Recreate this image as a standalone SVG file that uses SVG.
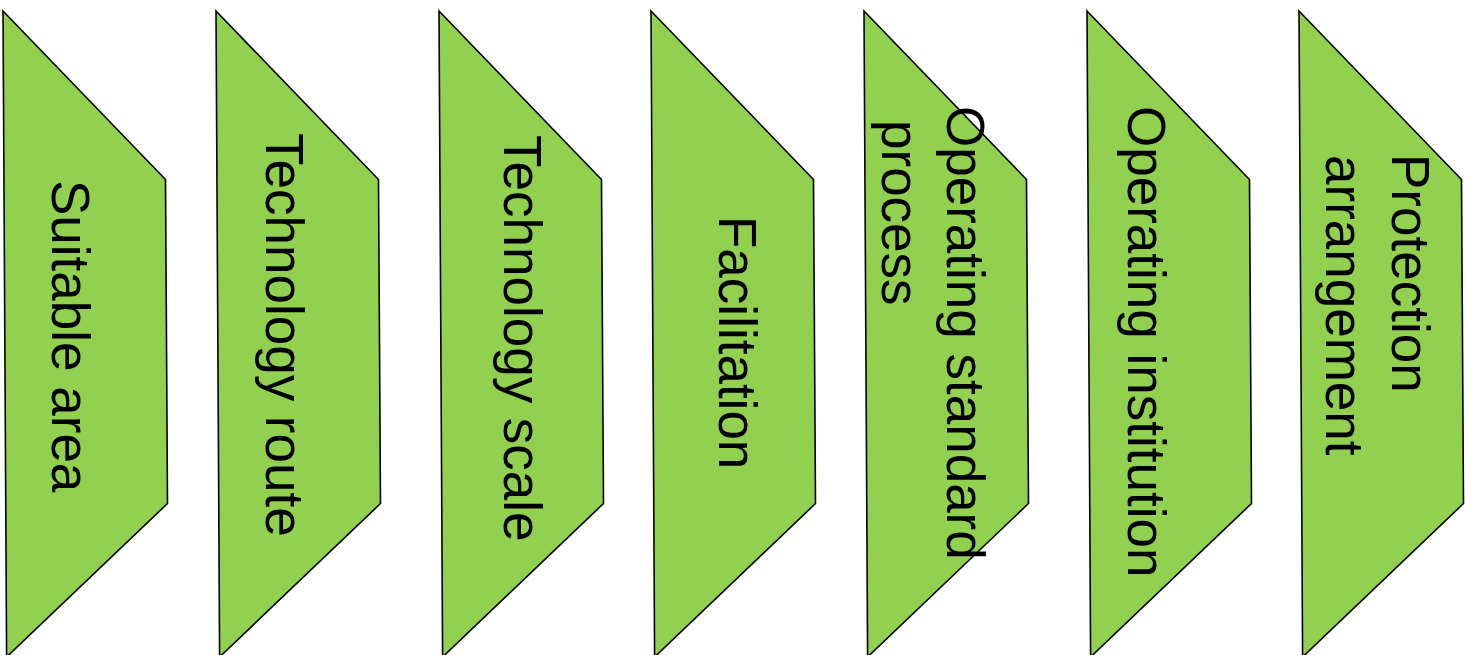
<svg xmlns="http://www.w3.org/2000/svg" width="1466" height="655" viewBox="0 0 1466 655">
  <style>
    .step { fill: #92D050; stroke: #000000; stroke-width: 1.6; stroke-linejoin: miter; }
    .label { font-family: "Liberation Sans", Arial, sans-serif; font-size: 53px; fill: #000000; }
  </style>
  <defs>
    <!-- Step chevron: slanted top, vertical sides, slanted bottom running past the lower edge -->
    <polygon id="chevron" points="0,0 162.5,168.5 164.5,492.5 3.6,646"/>
  </defs>
  <rect width="1466" height="655" fill="#ffffff"/>

  <g id="step-suitable-area">
    <use href="#chevron" class="step" transform="translate(3,11)"/>
    <text class="label" transform="translate(52,180) rotate(90)">Suitable area</text>
  </g>

  <g id="step-technology-route">
    <use href="#chevron" class="step" transform="translate(216,11)"/>
    <text class="label" transform="translate(266,133) rotate(90)">Technology route</text>
  </g>

  <g id="step-technology-scale">
    <use href="#chevron" class="step" transform="translate(439,11)"/>
    <text class="label" transform="translate(504,135) rotate(90)">Technology scale</text>
  </g>

  <g id="step-facilitation">
    <use href="#chevron" class="step" transform="translate(651,11)"/>
    <text class="label" transform="translate(719,216) rotate(90)">Facilitation</text>
  </g>

  <g id="step-operating-standard-process">
    <use href="#chevron" class="step" transform="translate(864,11)"/>
    <text class="label" transform="translate(947,106) rotate(90)">Operating standard</text>
    <text class="label" transform="translate(882,120) rotate(90)">process</text>
  </g>

  <g id="step-operating-institution">
    <use href="#chevron" class="step" transform="translate(1087,11)"/>
    <text class="label" transform="translate(1128,106) rotate(90)">Operating institution</text>
  </g>

  <g id="step-protection-arrangement">
    <use href="#chevron" class="step" transform="translate(1299,11)"/>
    <text class="label" transform="translate(1392,154) rotate(90)">Protection</text>
    <text class="label" transform="translate(1326,155) rotate(90)">arrangement</text>
  </g>

  <g id="connectors"/>
</svg>
